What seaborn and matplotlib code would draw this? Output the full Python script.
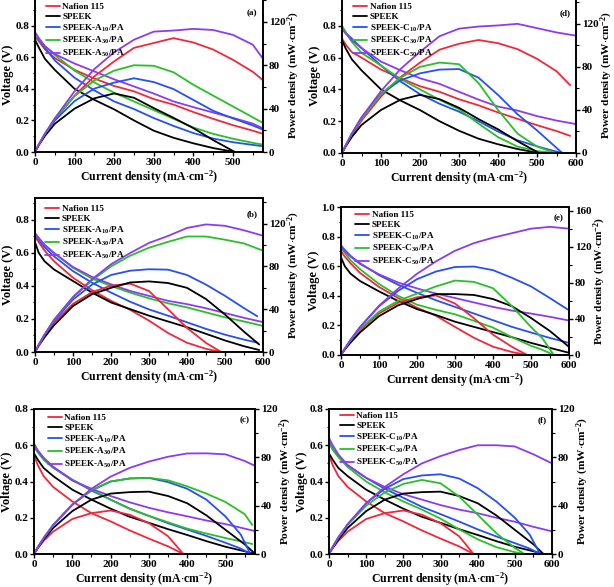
import matplotlib
matplotlib.use("Agg")
import matplotlib.pyplot as plt
from matplotlib.ticker import AutoMinorLocator, FormatStrFormatter
import seaborn as sns

# ---- data (current mA/cm2, voltage V, power mW/cm2) ----
G580 = [0, 10, 25, 50, 100, 150, 200, 250, 300, 350, 400, 450, 500, 550, 580]
G600 = [0, 10, 25, 50, 100, 150, 200, 250, 300, 350, 400, 450, 500, 550, 600]

# (a) SPEEK-A/PA
a_naf_v = [0.73, 0.70, 0.65, 0.595, 0.52, 0.465, 0.418, 0.384, 0.335, 0.30, 0.253, 0.21, 0.17, 0.135, 0.112]
a_naf_p = [0, 7.0, 16.2, 29.8, 52, 69.8, 83.6, 96, 100.5, 105, 101, 94.5, 85, 74, 65]
a_spk_i = [0, 10, 25, 50, 100, 150, 200, 250, 300, 350, 400, 450, 505]
a_spk_v = [0.71, 0.66, 0.59, 0.52, 0.40, 0.33, 0.27, 0.20, 0.135, 0.09, 0.055, 0.025, 0.0]
a_spk_p = [0, 6.6, 14.8, 26, 40, 49.5, 54, 50, 40.5, 31.5, 22, 11, 0]
a_a10_v = [0.74, 0.71, 0.66, 0.58, 0.47, 0.39, 0.32, 0.272, 0.215, 0.165, 0.12, 0.085, 0.062, 0.045, 0.035]
a_a10_p = [0, 7.1, 16.5, 29, 47, 58.5, 64, 68, 64.5, 58, 48, 38, 31, 24.5, 20]
a_a30_v = [0.745, 0.715, 0.67, 0.615, 0.515, 0.44, 0.375, 0.32, 0.265, 0.21, 0.155, 0.115, 0.084, 0.058, 0.045]
a_a30_p = [0, 7.2, 16.8, 30.8, 51.5, 66, 75, 80, 79.5, 73.5, 62, 52, 42, 32, 26]
a_a50_v = [0.76, 0.72, 0.67, 0.62, 0.56, 0.51, 0.46, 0.415, 0.37, 0.32, 0.284, 0.25, 0.216, 0.18, 0.145]
a_a50_p = [0, 7.2, 16.8, 31, 56, 76.5, 92, 103.5, 111, 112, 113.5, 112.5, 108, 99, 84]

# (d) SPEEK-C/PA
d_naf_i = [0, 10, 25, 50, 100, 150, 200, 250, 300, 350, 400, 450, 500, 550, 585]
d_naf_v = [0.72, 0.68, 0.635, 0.60, 0.525, 0.47, 0.42, 0.385, 0.338, 0.30, 0.255, 0.215, 0.175, 0.138, 0.108]
d_naf_p = [0, 6.8, 15.9, 30, 52.5, 70.5, 84, 96, 101.5, 105, 102, 96.5, 87.5, 76, 63]
d_spk_i = [0, 10, 25, 50, 100, 150, 200, 250, 300, 350, 400, 450, 505]
d_spk_v = [0.71, 0.655, 0.59, 0.52, 0.40, 0.33, 0.27, 0.20, 0.14, 0.09, 0.055, 0.025, 0.0]
d_spk_p = [0, 6.5, 14.8, 26, 40, 49.5, 54, 50, 42, 31.5, 22, 11, 0]
d_c10_i = [0, 10, 25, 50, 100, 150, 200, 250, 300, 350, 400, 450, 500, 540, 565]
d_c10_v = [0.78, 0.755, 0.72, 0.66, 0.55, 0.45, 0.37, 0.31, 0.26, 0.20, 0.135, 0.08, 0.042, 0.015, 0.0]
d_c10_p = [0, 7.5, 18, 33, 55, 67.5, 74, 77.5, 78, 70, 54, 36, 21, 8, 0]
d_c30_i = [0, 10, 25, 50, 100, 150, 200, 250, 300, 350, 400, 450, 500, 547]
d_c30_v = [0.80, 0.76, 0.70, 0.63, 0.55, 0.465, 0.40, 0.335, 0.275, 0.185, 0.10, 0.04, 0.012, 0.0]
d_c30_p = [0, 7.6, 17.5, 31.5, 55, 70, 80, 84, 82.5, 65, 40, 18, 6, 0]
d_c50_v = [0.78, 0.75, 0.71, 0.66, 0.575, 0.52, 0.47, 0.435, 0.385, 0.336, 0.292, 0.267, 0.232, 0.204, 0.182]
d_c50_p = [0, 7.5, 17.8, 33, 57.5, 78, 94, 108.5, 115.5, 117.5, 118.5, 120, 116, 112, 109]

# (b) SPEEK-A/PA
b_naf_i = [0, 10, 25, 50, 100, 150, 200, 250, 300, 350, 400, 450, 490]
b_naf_v = [0.70, 0.665, 0.615, 0.55, 0.45, 0.375, 0.31, 0.256, 0.19, 0.115, 0.056, 0.019, 0.0]
b_naf_p = [0, 6.6, 15.4, 27.5, 45, 56, 62, 64, 57, 40, 22.5, 8.5, 0]
b_spk_i = [0, 10, 25, 50, 100, 150, 200, 250, 300, 350, 400, 450, 500, 550, 590]
b_spk_v = [0.665, 0.60, 0.55, 0.50, 0.43, 0.36, 0.30, 0.26, 0.22, 0.185, 0.15, 0.11, 0.07, 0.035, 0.012]
b_spk_p = [0, 6, 13.7, 25, 43, 54, 60, 65, 66, 64.5, 60, 49.5, 35, 19, 7]
b_a10_i = [0, 10, 25, 50, 100, 150, 200, 250, 300, 350, 400, 450, 500, 550, 585]
b_a10_v = [0.71, 0.68, 0.635, 0.58, 0.49, 0.42, 0.36, 0.305, 0.258, 0.22, 0.18, 0.14, 0.105, 0.075, 0.057]
b_a10_p = [0, 6.8, 15.9, 29, 49, 63, 72, 76, 77.4, 77, 72, 63, 52.5, 41, 33.4]
b_a30_v = [0.72, 0.69, 0.65, 0.60, 0.51, 0.445, 0.40, 0.36, 0.325, 0.295, 0.27, 0.24, 0.21, 0.185, 0.158]
b_a30_p = [0, 6.9, 16, 30, 51, 67, 80, 90, 97.5, 103, 108, 108, 105, 101.5, 94.8]
b_a50_v = [0.72, 0.69, 0.65, 0.60, 0.515, 0.455, 0.41, 0.37, 0.34, 0.31, 0.29, 0.265, 0.236, 0.207, 0.181]
b_a50_p = [0, 6.9, 16.3, 30, 51.5, 68, 82, 92.5, 102, 108.5, 116, 119.3, 118, 113.8, 108.7]

# (e) SPEEK-C/PA
e_naf_i = [0, 10, 25, 50, 100, 150, 200, 250, 300, 350, 400, 450, 490]
e_naf_v = [0.70, 0.665, 0.62, 0.555, 0.46, 0.385, 0.32, 0.265, 0.19, 0.116, 0.056, 0.02, 0.0]
e_naf_p = [0, 6.7, 15.5, 27.8, 46, 57.8, 64, 66, 57, 40.7, 22.5, 9, 0]
e_spk_v = [0.66, 0.60, 0.55, 0.50, 0.43, 0.365, 0.31, 0.27, 0.225, 0.19, 0.155, 0.12, 0.082, 0.048, 0.015]
e_spk_p = [0, 6, 13.7, 25, 43, 55, 62, 67.5, 67.5, 66.5, 62, 54, 41, 26.5, 9]
e_c10_v = [0.74, 0.71, 0.67, 0.62, 0.54, 0.475, 0.42, 0.37, 0.325, 0.28, 0.235, 0.19, 0.152, 0.115, 0.082]
e_c10_p = [0, 7.1, 16.8, 31, 54, 71, 84, 92.5, 97.5, 98, 94, 85.5, 76, 63, 49.5]
e_c30_i = [0, 10, 25, 50, 100, 150, 200, 250, 300, 350, 400, 450, 500, 530, 560]
e_c30_v = [0.72, 0.69, 0.64, 0.58, 0.48, 0.40, 0.34, 0.305, 0.275, 0.231, 0.185, 0.12, 0.062, 0.035, 0.0]
e_c30_p = [0, 6.9, 16, 29, 48, 60, 68, 76, 82.5, 81, 74, 54, 31, 18.5, 0]
e_c50_v = [0.73, 0.70, 0.665, 0.615, 0.545, 0.49, 0.45, 0.415, 0.385, 0.355, 0.325, 0.30, 0.28, 0.258, 0.233]
e_c50_p = [0, 7, 16.6, 30.8, 54.5, 73.5, 90, 103.8, 115.5, 124, 130, 135, 140, 142, 140]

# (c) SPEEK-A/PA
c_naf_i = [0, 10, 25, 50, 100, 150, 200, 250, 300, 350, 390]
c_naf_v = [0.545, 0.49, 0.43, 0.37, 0.29, 0.225, 0.18, 0.13, 0.085, 0.042, 0.0]
c_naf_p = [0, 4.9, 10.8, 18.5, 29, 33.8, 36, 32.5, 25.5, 14.7, 0]
c_spk_i = [0, 10, 25, 50, 100, 150, 200, 250, 300, 350, 400, 450, 500, 550, 578]
c_spk_v = [0.555, 0.52, 0.475, 0.43, 0.355, 0.30, 0.25, 0.205, 0.172, 0.137, 0.105, 0.071, 0.04, 0.015, 0.0]
c_spk_p = [0, 5.2, 11.9, 21.5, 35.5, 45, 50, 51.2, 51.6, 48, 42, 32, 20, 8, 0]
c_a10_i = [0, 10, 25, 50, 100, 150, 200, 250, 300, 350, 400, 450, 500, 540, 565]
c_a10_v = [0.61, 0.57, 0.53, 0.48, 0.41, 0.35, 0.30, 0.25, 0.21, 0.17, 0.135, 0.1, 0.062, 0.03, 0.0]
c_a10_p = [0, 5.7, 13.3, 24, 41, 52.5, 60, 62.5, 63, 59.5, 54, 45, 31, 16, 0]
c_a30_i = [0, 10, 25, 50, 100, 150, 200, 250, 300, 350, 400, 450, 500, 550, 570]
c_a30_v = [0.59, 0.56, 0.52, 0.475, 0.41, 0.355, 0.30, 0.25, 0.21, 0.175, 0.14, 0.113, 0.088, 0.065, 0.055]
c_a30_p = [0, 5.6, 13, 23.8, 41, 53, 60, 62.5, 63, 61, 56, 50, 43, 33, 24]
c_a50_v = [0.60, 0.57, 0.53, 0.48, 0.405, 0.36, 0.32, 0.285, 0.255, 0.23, 0.208, 0.185, 0.165, 0.14, 0.125]
c_a50_p = [0, 5.7, 13, 24, 40.5, 54, 64, 71.3, 76.5, 80.5, 83.2, 83.3, 82.5, 77, 72.5]

# (f) SPEEK-C/PA
f_naf_i = [0, 10, 25, 50, 100, 150, 200, 250, 300, 350, 389]
f_naf_v = [0.545, 0.49, 0.43, 0.37, 0.29, 0.225, 0.18, 0.13, 0.085, 0.042, 0.0]
f_naf_p = [0, 4.9, 10.8, 18.5, 29, 33.8, 36, 32.5, 25.5, 14.7, 0]
f_spk_i = [0, 10, 25, 50, 100, 150, 200, 250, 300, 350, 400, 450, 500, 550, 577]
f_spk_v = [0.555, 0.52, 0.475, 0.43, 0.355, 0.30, 0.25, 0.205, 0.172, 0.137, 0.105, 0.071, 0.04, 0.015, 0.0]
f_spk_p = [0, 5.2, 11.9, 21.5, 35.5, 45, 50, 51.2, 51.6, 48, 42, 32, 20, 8, 0]
f_c10_i = [0, 10, 25, 50, 100, 150, 200, 250, 300, 350, 400, 450, 500, 540, 568]
f_c10_v = [0.62, 0.58, 0.54, 0.49, 0.42, 0.36, 0.31, 0.26, 0.22, 0.179, 0.136, 0.097, 0.06, 0.03, 0.0]
f_c10_p = [0, 5.8, 13.5, 24.5, 42, 54, 62, 65, 66, 62.5, 54.5, 43.5, 30, 16, 0]
f_c30_i = [0, 10, 25, 50, 100, 150, 200, 250, 300, 350, 400, 450, 500, 526]
f_c30_v = [0.61, 0.575, 0.535, 0.48, 0.40, 0.34, 0.29, 0.245, 0.195, 0.136, 0.081, 0.038, 0.01, 0.0]
f_c30_p = [0, 5.8, 13.4, 24, 40, 51, 58, 61.3, 58.5, 47.6, 32.5, 17.3, 5, 0]
f_c50_v = [0.64, 0.60, 0.55, 0.49, 0.42, 0.37, 0.33, 0.30, 0.27, 0.245, 0.225, 0.2, 0.178, 0.15, 0.125]
f_c50_p = [0, 6, 13.8, 24.5, 42, 55.5, 66, 75, 81, 86, 90, 90, 89, 82.5, 75]

labels_a = ["Nafion 115", "SPEEK", "SPEEK-A$_{10}$/PA", "SPEEK-A$_{30}$/PA", "SPEEK-A$_{50}$/PA"]
labels_c = ["Nafion 115", "SPEEK", "SPEEK-C$_{10}$/PA", "SPEEK-C$_{30}$/PA", "SPEEK-C$_{50}$/PA"]
colors = ["#f0283c", "#000000", "#2850f0", "#28c028", "#8c3cf0"]

# ---- style ----
sns.set_theme(style="ticks")
plt.rcParams["font.family"] = ["Liberation Serif", "DejaVu Serif"]
plt.rcParams["font.weight"] = "bold"
plt.rcParams["axes.labelweight"] = "bold"
plt.rcParams["mathtext.fontset"] = "custom"
plt.rcParams["mathtext.rm"] = "Liberation Serif:bold"
plt.rcParams["mathtext.it"] = "Liberation Serif:bold"
plt.rcParams["mathtext.bf"] = "Liberation Serif:bold"
plt.rcParams["mathtext.default"] = "rm"
plt.rcParams["axes.edgecolor"] = "black"
plt.rcParams["xtick.color"] = "black"
plt.rcParams["ytick.color"] = "black"
plt.rcParams["text.color"] = "black"
plt.rcParams["axes.labelcolor"] = "black"

W, H = 614, 587
fig = plt.figure(figsize=(W / 100, H / 100), dpi=100)


def panel(box, curves, labels, xlim, xticks, vlim, vticks, plim, pticks, tag, tag_dy, leg_dx, leg_dy):
    l, t, r, b = box
    ax = fig.add_axes([l / W, 1 - b / H, (r - l) / W, (b - t) / H])
    ax2 = ax.twinx()
    handles = []
    for (cur, v, p), col in zip(curves, colors):
        sns.lineplot(x=cur, y=v, ax=ax, color=col, lw=1.3, legend=False)
        handles.append(ax.lines[-1])
        sns.lineplot(x=cur, y=p, ax=ax2, color=col, lw=1.3, legend=False)

    ax.set_xlim(*xlim)
    ax.set_xticks(xticks)
    ax.set_ylim(*vlim)
    ax.set_yticks(vticks)
    ax.yaxis.set_major_formatter(FormatStrFormatter("%.1f"))
    ax2.set_ylim(*plim)
    ax2.set_yticks(pticks)
    for a in (ax, ax2):
        a.xaxis.set_minor_locator(AutoMinorLocator(2))
        a.yaxis.set_minor_locator(AutoMinorLocator(2))
        a.tick_params(which="major", direction="out", length=3, width=1, labelsize=8, pad=1.2)
        a.tick_params(which="minor", direction="out", length=1.8, width=0.8)
        for s in a.spines.values():
            s.set_linewidth(1.2)
            s.set_color("black")

    ax.set_xlabel("Current density (mA$\\cdot$cm$^{-2}$)", fontsize=8.5, labelpad=1)
    ax.set_ylabel("Voltage (V)", fontsize=9, labelpad=1)
    ax2.set_ylabel("Power density (mW$\\cdot$cm$^{-2}$)", fontsize=8.2, labelpad=0)

    h = b - t
    ax.text(0.975, 1 - tag_dy / h, tag, transform=ax.transAxes, ha="right", va="center",
            fontsize=6.5, fontweight="bold")
    ax2.legend(handles, labels, loc="upper left", frameon=False, fontsize=6.6,
               bbox_to_anchor=(leg_dx / (r - l), 1 - leg_dy / h), borderpad=0, borderaxespad=0,
               handlelength=1.5, handletextpad=0.3, labelspacing=0.15)


panel((35, -2, 263, 152),
      [(G580, a_naf_v, a_naf_p), (a_spk_i, a_spk_v, a_spk_p), (G580, a_a10_v, a_a10_p),
       (G580, a_a30_v, a_a30_p), (G580, a_a50_v, a_a50_p)],
      labels_a, (0, 576), range(0, 501, 100), (0, 0.975), [0, 0.2, 0.4, 0.6, 0.8],
      (0, 142), [0, 40, 80, 120], "(a)", 15, 11, 5)

panel((342, -2, 576, 153),
      [(d_naf_i, d_naf_v, d_naf_p), (d_spk_i, d_spk_v, d_spk_p), (d_c10_i, d_c10_v, d_c10_p),
       (d_c30_i, d_c30_v, d_c30_p), (G600, d_c50_v, d_c50_p)],
      labels_c, (0, 600), range(0, 601, 100), (0, 0.975), [0, 0.2, 0.4, 0.6, 0.8],
      (0, 144), [0, 40, 80, 120], "(d)", 15, 11, 5)

panel((35, 198, 263, 352),
      [(b_naf_i, b_naf_v, b_naf_p), (b_spk_i, b_spk_v, b_spk_p), (b_a10_i, b_a10_v, b_a10_p),
       (G600, b_a30_v, b_a30_p), (G600, b_a50_v, b_a50_p)],
      labels_a, (0, 600), range(0, 601, 100), (0, 0.933), [0, 0.2, 0.4, 0.6, 0.8],
      (0, 144), [0, 40, 80, 120], "(b)", 16, 10, 7)

panel((341, 207, 569, 355),
      [(e_naf_i, e_naf_v, e_naf_p), (G600, e_spk_v, e_spk_p), (G600, e_c10_v, e_c10_p),
       (e_c30_i, e_c30_v, e_c30_p), (G600, e_c50_v, e_c50_p)],
      labels_c, (0, 600), range(0, 601, 100), (0, 1.0), [0, 0.2, 0.4, 0.6, 0.8, 1.0],
      (0, 164), [0, 40, 80, 120, 160], "(e)", 11, 14, 4)

panel((34, 409, 255, 554),
      [(c_naf_i, c_naf_v, c_naf_p), (c_spk_i, c_spk_v, c_spk_p), (c_a10_i, c_a10_v, c_a10_p),
       (c_a30_i, c_a30_v, c_a30_p), (G580, c_a50_v, c_a50_p)],
      labels_a, (0, 577), range(0, 501, 100), (0, 0.8), [0, 0.2, 0.4, 0.6, 0.8],
      (0, 120), [0, 40, 80, 120], "(c)", 11, 14, 5)

panel((329, 409, 552, 554),
      [(f_naf_i, f_naf_v, f_naf_p), (f_spk_i, f_spk_v, f_spk_p), (f_c10_i, f_c10_v, f_c10_p),
       (f_c30_i, f_c30_v, f_c30_p), (G600, f_c50_v, f_c50_p)],
      labels_c, (0, 600), range(0, 601, 100), (0, 0.8), [0, 0.2, 0.4, 0.6, 0.8],
      (0, 120), [0, 40, 80, 120], "(f)", 11, 11, 3)

fig.savefig("out.png", dpi=100)
